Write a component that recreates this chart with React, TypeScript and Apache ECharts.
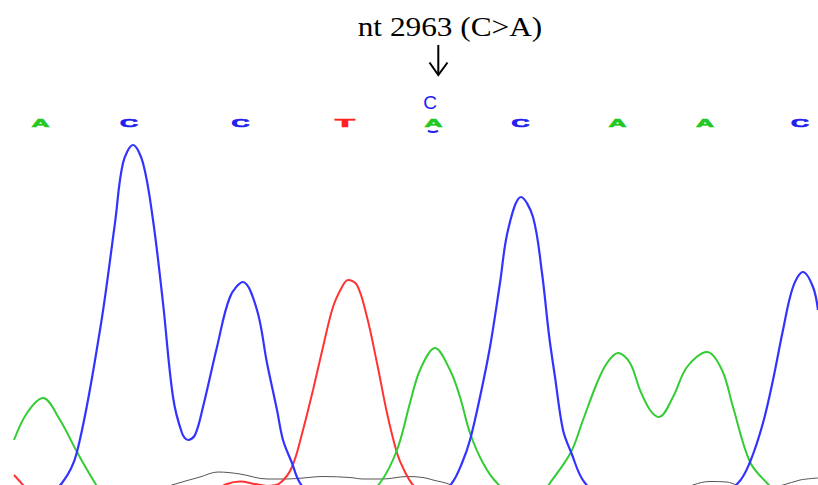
import React, { useEffect, useRef } from "react";
import * as echarts from "echarts";

// Trace samples: [scan position, signal intensity]
const blueTrace: number[][] = [
  [14, -30], [40, -15], [62, 2], [77, 33], [100, 155], [115, 262], [123, 322], [133, 340],
  [143, 322], [153, 265], [163, 182], [173, 88], [182, 52], [188, 45], [195, 50], [203, 78],
  [217, 138], [230, 188], [243, 203], [257, 175], [267, 122], [277, 75], [283, 45], [292, 22],
  [300, 2], [320, -20], [380, -30], [430, -20], [452, 2], [462, 22], [470, 45], [480, 88],
  [490, 138], [500, 202], [508, 255], [521, 288], [533, 268], [542, 212], [549, 150],
  [555, 108], [563, 55], [571, 33], [585, 2], [620, -25], [700, -25], [738, 2], [750, 23],
  [763, 62], [773, 105], [783, 155], [793, 198], [803, 213], [813, 198], [818, 175],
];

const redTrace: number[][] = [
  [14, 10], [23, 0], [40, -20], [120, -30], [200, -12], [227, 1], [240, 3.5], [255, 1],
  [267, -1], [280, 2], [292, 18], [303, 55], [313, 95], [323, 138], [333, 178], [342, 198],
  [348, 205], [357, 200], [367, 168], [377, 122], [387, 72], [397, 32], [404, 15], [413, 0],
  [440, -25], [600, -40], [818, -40],
];

const greenTrace: number[][] = [
  [14, 45], [27, 72], [43, 87], [60, 65], [77, 33], [95, 2], [110, -20], [200, -40],
  [300, -30], [360, -15], [380, 2], [397, 35], [410, 82], [420, 115], [435, 137], [450, 115],
  [460, 88], [470, 52], [483, 22], [497, 2], [520, -15], [540, -10], [550, 2], [571, 33],
  [583, 65], [597, 102], [607, 122], [618, 132], [630, 122], [640, 95], [650, 75], [659, 68],
  [673, 88], [687, 118], [707, 133], [722, 115], [733, 78], [750, 23], [767, 2], [790, -20],
  [818, -30],
];

const blackTrace: number[][] = [
  [150, -8], [172, 0], [200, 8], [218, 13], [240, 11], [267, 6], [287, 6], [303, 7],
  [323, 8.5], [350, 7.5], [363, 6], [383, 6], [407, 8.5], [423, 7.5], [433, 5], [450, 0.5],
  [470, -10], [670, -10], [693, 0], [710, 3.5], [727, 3], [737, 0], [760, -4], [783, 0],
  [800, 5], [818, 7],
];

// Base calls
const baseLetters = ["A", "C", "C", "T", "A", "C", "A", "A", "C"];
const basePositions = [40.5, 129, 240.5, 345, 433.5, 520.5, 617.5, 705, 800];
const secondaryCall = { letter: "C", position: 430 };
const titleText = "nt 2963 (C>A)";

const baseColors: Record<string, string> = {
  A: "#22c822",
  C: "#2020f0",
  T: "#ff2020",
  G: "#000000",
};
const glyphWidth: Record<string, number> = { A: 0.722, C: 0.722, T: 0.611, G: 0.778 };
const glyphTarget: Record<string, number> = { A: 18, C: 18, T: 20, G: 18 };

export default function App() {
  const ref = useRef<HTMLDivElement>(null);

  useEffect(() => {
    if (!ref.current) return;
    const chart = echarts.init(ref.current, null, { renderer: "svg" });

    const lineSeries = (data: number[][], color: string, width: number, z: number) => ({
      type: "line",
      data,
      showSymbol: false,
      smooth: 0.35,
      clip: true,
      z,
      lineStyle: { color, width },
      emphasis: { disabled: true },
    });

    chart.setOption({
      animation: false,
      grid: { left: 0, right: 0, top: 0, bottom: 0 },
      xAxis: { type: "value", min: 0, max: 818, show: false },
      yAxis: { type: "value", min: 0, max: 485, show: false },
      series: [
        lineSeries(blackTrace, "#555555", 1, 1),
        lineSeries(redTrace, "#ff3333", 2, 2),
        lineSeries(greenTrace, "#33cc33", 2, 3),
        lineSeries(blueTrace, "#3333ff", 2.2, 4),
        {
          type: "custom",
          data: basePositions.map((p, i) => [p, i]),
          z: 5,
          renderItem: (params: any, api: any) => {
            const pos = api.value(0);
            const idx = api.value(1);
            const letter = baseLetters[idx];
            const pt = api.coord([pos, 0]);
            const fs = 11;
            return {
              type: "text",
              x: pt[0],
              y: 123.5,
              scaleX: glyphTarget[letter] / (glyphWidth[letter] * fs),
              scaleY: 1,
              style: {
                text: letter,
                fill: baseColors[letter],
                fontSize: fs,
                fontWeight: "bold",
                fontFamily: "Liberation Sans, Arial, sans-serif",
                align: "center",
                verticalAlign: "middle",
                stroke: baseColors[letter],
                lineWidth: 0.6,
              },
            };
          },
        },
        {
          type: "custom",
          data: [[secondaryCall.position, 0]],
          z: 5,
          renderItem: (params: any, api: any) => {
            const pt = api.coord([api.value(0), 0]);
            return {
              type: "text",
              x: pt[0],
              y: 102,
              style: {
                text: secondaryCall.letter,
                fill: baseColors[secondaryCall.letter],
                fontSize: 19,
                fontFamily: "Liberation Sans, Arial, sans-serif",
                align: "center",
                verticalAlign: "middle",
              },
            };
          },
        },
      ],
      graphic: [
        {
          type: "text",
          x: 450,
          y: 27,
          scaleX: 1.16,
          style: {
            text: titleText,
            fill: "#000",
            fontSize: 27,
            fontFamily: "Liberation Serif, Times New Roman, serif",
            align: "center",
            verticalAlign: "middle",
          },
        },
        {
          type: "line",
          shape: { x1: 438.3, y1: 45, x2: 438.3, y2: 74 },
          style: { stroke: "#000", lineWidth: 2 },
        },
        {
          type: "polyline",
          shape: { points: [[429.5, 62.5], [438.3, 75], [447.5, 62.5]] },
          style: { stroke: "#000", lineWidth: 2, fill: "none" },
        },
        {
          type: "arc",
          shape: { cx: 433, cy: 120, r: 12, startAngle: Math.PI * 0.36, endAngle: Math.PI * 0.64 },
          style: { stroke: "#2020f0", lineWidth: 2, fill: "none" },
        },
      ],
    });

    return () => chart.dispose();
  }, []);

  return (
    <div
      ref={ref}
      style={{ position: "absolute", left: 0, top: 0, width: 818, height: 485, background: "#fff" }}
    />
  );
}
